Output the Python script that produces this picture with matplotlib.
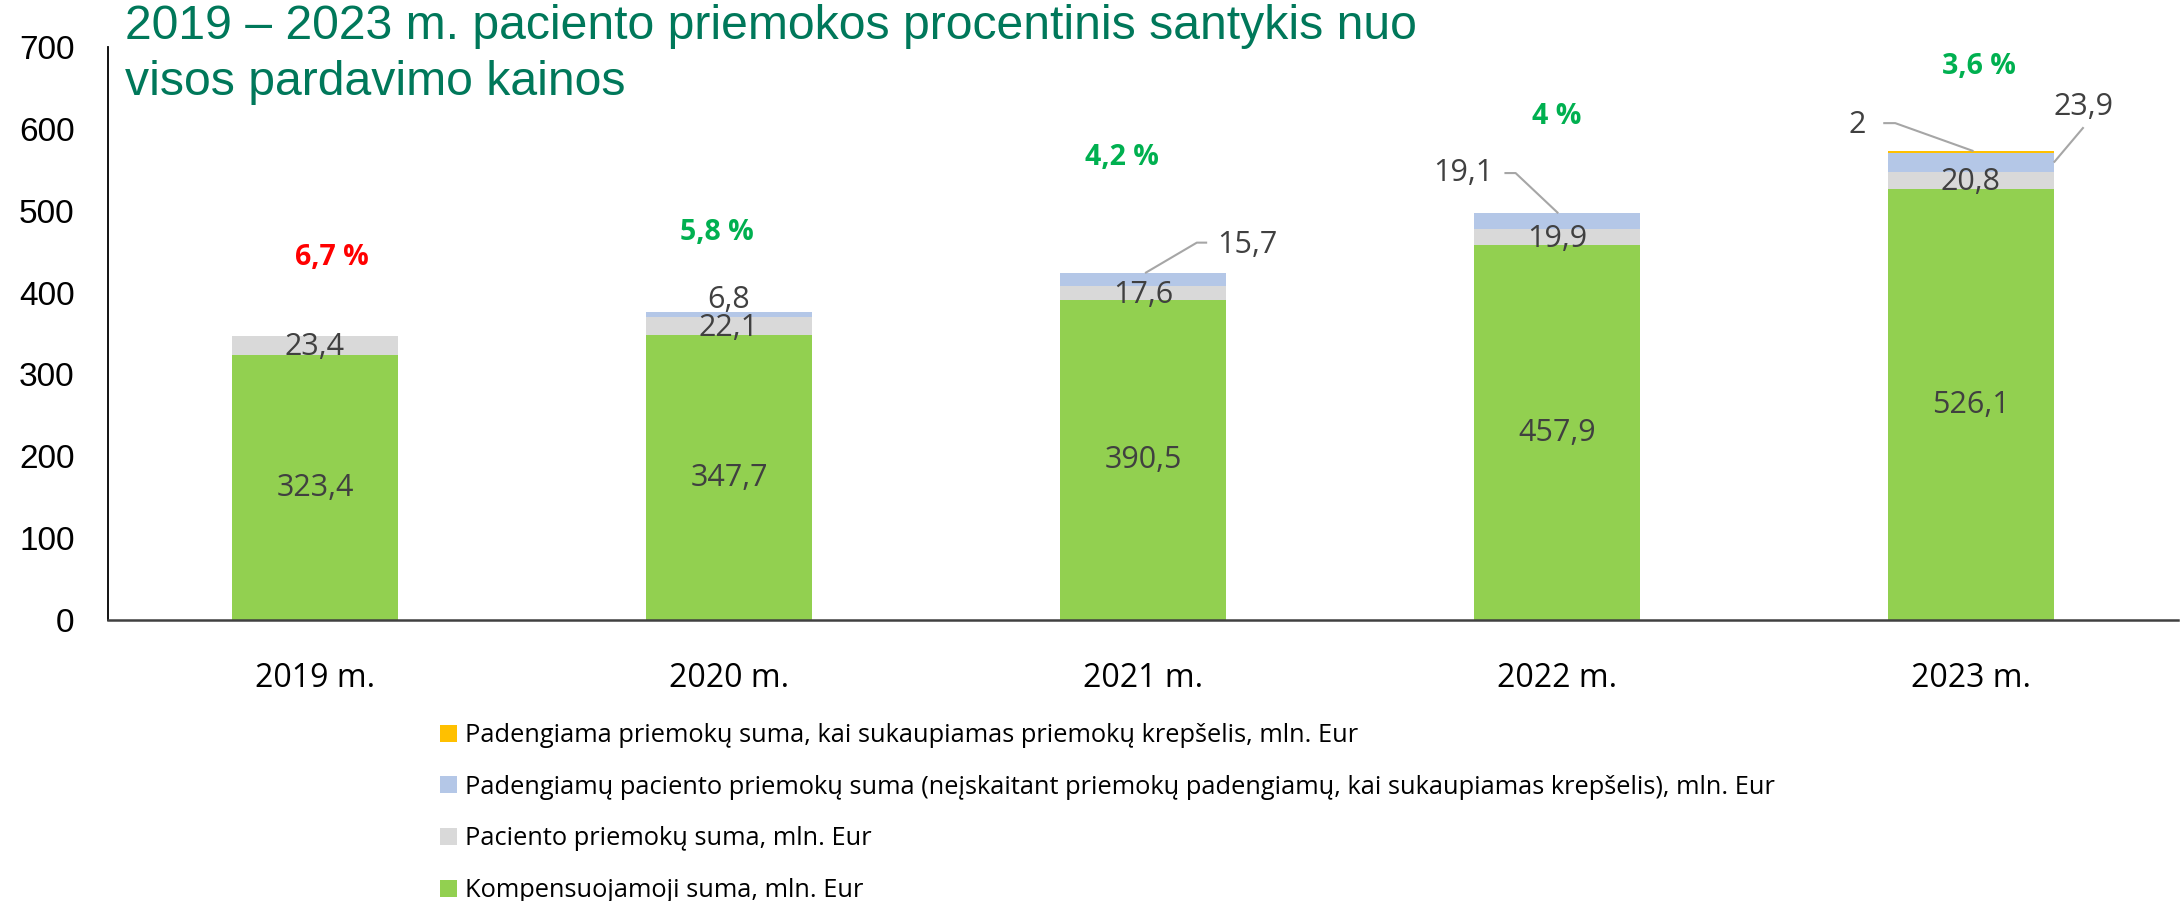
import numpy as np
import matplotlib
matplotlib.use("Agg")
import matplotlib.pyplot as plt
from matplotlib.patches import Patch

#----Data----
years = ["2019 m.", "2020 m.", "2021 m.", "2022 m.", "2023 m."]
kompensuojamoji = [323.4, 347.7, 390.5, 457.9, 526.1]  # green
paciento = [23.4, 22.1, 17.6, 19.9, 20.8]  # gray
padengiamu = [0.0, 6.8, 15.7, 19.1, 23.9]  # blue
krepselis = [0.0, 0.0, 0.0, 0.0, 2.0]  # orange
pct_labels = ["6,7 %", "5,8 %", "4,2 %", "4 %", "3,6 %"]
pct_red = [True, False, False, False, False]

series_names = [
    "Kompensuojamoji suma, mln. Eur",
    "Paciento priemokų suma, mln. Eur",
    "Padengiamų paciento priemokų suma (neįskaitant priemokų padengiamų, kai sukaupiamas krepšelis), mln. Eur",
    "Padengiama priemokų suma, kai sukaupiamas priemokų krepšelis, mln. Eur",
]
#----End Data----

colors = ["#92D050", "#D9D9D9", "#B4C7E7", "#FFC000"]
lbl_color = "#404040"
title_color = "#00785A"
FONT = "Open Sans"

def fmt(v):
    if float(v).is_integer():
        return f"{int(v)}"
    return f"{v:.1f}".replace(".", ",")

fig = plt.figure(figsize=(21.81, 9.01), dpi=100)
ax = fig.add_axes([108/2181, 1-620/901, 2070/2181, (620-47)/901])

x = np.arange(len(years))
width = 0.4
stack = [kompensuojamoji, paciento, padengiamu, krepselis]
bottom = np.zeros(len(years))
bottoms = []
for vals, c in zip(stack, colors):
    ax.bar(x, vals, width, bottom=bottom, color=c, edgecolor="none", zorder=2)
    bottoms.append(bottom.copy())
    bottom = bottom + np.array(vals)
totals = bottom

# labels inside green and gray segments
for i in x:
    ax.text(i, bottoms[0][i] + kompensuojamoji[i]/2, fmt(kompensuojamoji[i]),
            ha="center", va="center", fontsize=22, color=lbl_color, family=FONT)
    ax.text(i, bottoms[1][i] + paciento[i]/2 - 2, fmt(paciento[i]),
            ha="center", va="center", fontsize=22, color=lbl_color, family=FONT)

# 2020 small blue segment: label right above
ax.text(1, totals[1] + 14, fmt(padengiamu[1]), ha="center", va="center",
        fontsize=22, color=lbl_color, family=FONT)

# labels with leader lines: (index, value, anchor dx, anchor y, elbow, end, text x, text y, ha)
leaders = [
    (2, padengiamu[2], 0.005, totals[2], (2.13, 461), (2.155, 461), 2.18, 458, "left"),
    (3, padengiamu[3], 0.003, totals[3], (2.90, 546), (2.873, 546), 2.846, 546, "right"),
    (4, krepselis[4], 0.006, totals[4], (3.817, 607), (3.788, 607), 3.745, 605, "right"),
    (4, padengiamu[4], 0.2, bottoms[2][4] + padengiamu[4]/2, (4.272, 602), (4.272, 602), 4.272, 627, "center"),
]
for i, v, dx, ay, elbow, end, tx, ty, ha in leaders:
    ax.plot([i + dx, elbow[0], end[0]], [ay, elbow[1], end[1]], color="#A6A6A6",
            lw=1.5, zorder=3, solid_capstyle="butt")
    ax.text(tx, ty, fmt(v), ha=ha, va="center", fontsize=22, color=lbl_color, family=FONT)

# percentage labels
pct_y = [443, 473, 565, 615, 676]
pct_dx = [0.04, -0.03, -0.05, 0.0, 0.02]
for i in x:
    ax.text(i + pct_dx[i], pct_y[i], pct_labels[i], ha="center", va="center", fontsize=20.5,
            fontweight="bold", color="#FF0000" if pct_red[i] else "#00B050", family=FONT)

ax.set_xlim(-0.5, len(years) - 0.5)
ax.set_ylim(0, 700)
ax.set_yticks(np.arange(0, 701, 100))
ax.set_xticks(x)
ax.set_xticklabels(years, fontsize=23, family=FONT)
for t in ax.get_yticklabels():
    t.set_fontsize(24)
    t.set_family("Liberation Sans")
ax.tick_params(axis="y", length=0, pad=24)
ax.tick_params(axis="x", length=0, pad=30)
for s in ["top", "right"]:
    ax.spines[s].set_visible(False)
ax.spines["left"].set_color("#000000")
ax.spines["bottom"].set_color("#404040")
ax.spines["left"].set_linewidth(1.3)
ax.spines["bottom"].set_linewidth(1.8)

fig.text(125/2181, 1-4/901, "2019 – 2023 m. paciento priemokos procentinis santykis nuo\nvisos pardavimo kainos",
         ha="left", va="top", fontsize=34.7, color=title_color, family="Liberation Sans", linespacing=1.32)

handles = [Patch(facecolor=c, edgecolor="none") for c in colors][::-1]
fig.legend(handles, series_names[::-1], loc="upper left", bbox_to_anchor=(440/2181, 1-723/901),
           frameon=False, prop={"family": FONT, "size": 18.3}, handlelength=0.65, handleheight=0.65,
           handletextpad=0.35, labelspacing=1.05, borderpad=0, borderaxespad=0)

fig.savefig("out.png", dpi=100)
